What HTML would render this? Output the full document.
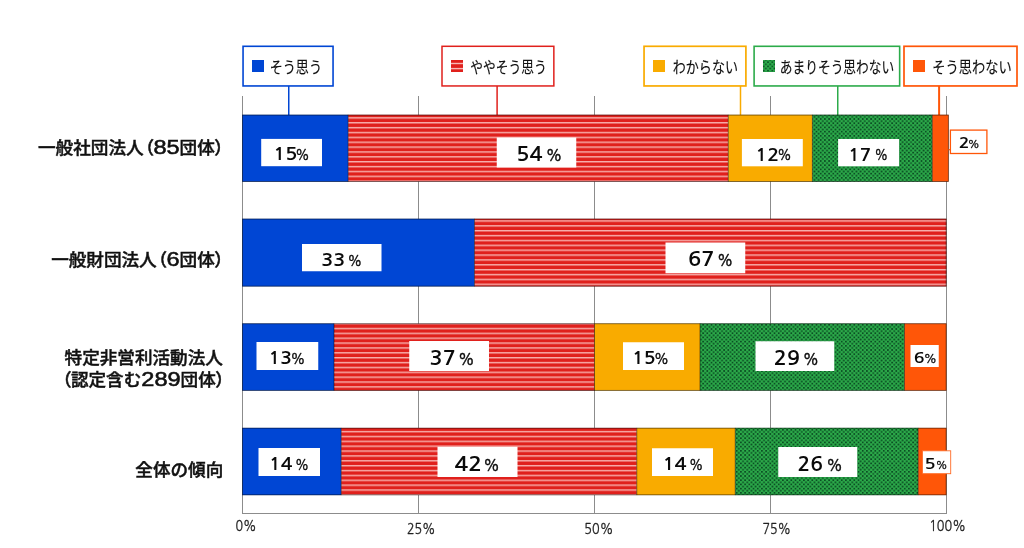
<!DOCTYPE html>
<html lang="ja">
<head>
<meta charset="utf-8">
<title>調査結果グラフ</title>
<style>
html,body{margin:0;padding:0;background:#fff;}
body{width:1024px;height:548px;overflow:hidden;}
svg{display:block;}
text{font-family:"Liberation Sans","Noto Sans CJK JP",sans-serif;fill:#111;}
.jp{font-family:"Noto Sans CJK JP","Liberation Sans",sans-serif;}
.lab{font-weight:500;font-size:17.6px;stroke:#111;stroke-width:0.45px;}
.num{font-family:"Liberation Sans",sans-serif;font-size:19.6px;font-weight:400;stroke-width:0.55px;}
.pp{font-feature-settings:"palt";}
.dig{font-family:NanumGothic,"Liberation Sans",sans-serif;font-weight:700;fill:#0a0a0a;}
.pc{font-family:NanumGothic,"Liberation Sans",sans-serif;font-weight:400;fill:#0a0a0a;stroke:#0a0a0a;stroke-width:0.03em;}
.leg{font-weight:400;fill:#111;stroke:#111;stroke-width:0.15px;}
.ax{font-family:NanumGothic,"Liberation Sans",sans-serif;font-weight:400;fill:#222;stroke:#222;stroke-width:0.02em;}
</style>
</head>
<body>
<svg width="1024" height="548" viewBox="0 0 1024 548">
<defs>
<pattern id="pr0" x="0" y="115.23" width="8" height="4.87" patternUnits="userSpaceOnUse"><rect width="8" height="4.87" fill="#e0201c"/><rect y="1.95" width="8" height="1.45" fill="#f7aeab"/></pattern>
<pattern id="pr1" x="0" y="218.32" width="8" height="4.87" patternUnits="userSpaceOnUse"><rect width="8" height="4.87" fill="#e0201c"/><rect y="1.95" width="8" height="1.45" fill="#f7aeab"/></pattern>
<pattern id="pr2" x="0" y="325.82" width="8" height="4.87" patternUnits="userSpaceOnUse"><rect width="8" height="4.87" fill="#e0201c"/><rect y="1.95" width="8" height="1.45" fill="#f7aeab"/></pattern>
<pattern id="pr3" x="0" y="428.93" width="8" height="4.87" patternUnits="userSpaceOnUse"><rect width="8" height="4.87" fill="#e0201c"/><rect y="1.95" width="8" height="1.45" fill="#f7aeab"/></pattern>
<pattern id="pg" x="0.85" y="0.55" width="4.2" height="4.2" patternUnits="userSpaceOnUse"><rect width="4.2" height="4.2" fill="#2cab4a"/><rect width="1.75" height="1.75" fill="#0b4f24"/><rect x="2.1" y="2.1" width="1.75" height="1.75" fill="#0b4f24"/></pattern>
<pattern id="pgl" x="762.9" y="61.4" width="4.3" height="4.2" patternUnits="userSpaceOnUse"><rect width="4.3" height="4.2" fill="#2cab4a"/><rect width="1.6" height="1.6" fill="#0b4f24"/><rect x="2.15" y="2.1" width="1.6" height="1.6" fill="#0b4f24"/></pattern>
</defs>
<rect x="0" y="0" width="1024" height="548" fill="#fff"/>
<g id="grid">
<line x1="242.5" y1="96" x2="242.5" y2="513.5" stroke="#8c8c8c" stroke-width="1"/>
<line x1="418.5" y1="96" x2="418.5" y2="513.5" stroke="#8c8c8c" stroke-width="1"/>
<line x1="594.5" y1="96" x2="594.5" y2="513.5" stroke="#8c8c8c" stroke-width="1"/>
<line x1="770.5" y1="96" x2="770.5" y2="513.5" stroke="#8c8c8c" stroke-width="1"/>
<line x1="946.5" y1="96" x2="946.5" y2="513.5" stroke="#8c8c8c" stroke-width="1"/>
<line x1="242" y1="513.5" x2="947" y2="513.5" stroke="#8c8c8c" stroke-width="1"/>
</g>
<g id="connectors">
<line x1="288.75" y1="86" x2="288.75" y2="116" stroke="#0046d4" stroke-width="1.5"/>
<line x1="497.1" y1="86" x2="497.1" y2="116" stroke="#e0201c" stroke-width="1.5"/>
<line x1="740.5" y1="86" x2="740.5" y2="116" stroke="#f9ab00" stroke-width="1.5"/>
<line x1="837.75" y1="86" x2="837.75" y2="116" stroke="#2cab4a" stroke-width="1.5"/>
<line x1="939.1" y1="86" x2="939.1" y2="116" stroke="#ff5608" stroke-width="2"/>
</g>
<g id="bars">
<rect x="242.3" y="114.8" width="105.90" height="66.90" fill="#0046d4"/>
<rect x="348.2" y="114.8" width="380.10" height="66.90" fill="url(#pr0)"/>
<rect x="728.3" y="114.8" width="84.10" height="66.90" fill="#f9ab00"/>
<rect x="812.4" y="114.8" width="119.90" height="66.90" fill="url(#pg)"/>
<rect x="932.3" y="114.8" width="16.30" height="66.90" fill="#ff5608"/>
<rect x="242.55" y="115.05" width="705.80" height="66.40" fill="none" stroke="#000" stroke-opacity="0.6" stroke-width="0.8"/>
<line x1="348.2" y1="114.8" x2="348.2" y2="181.7" stroke="#000" stroke-opacity="0.6" stroke-width="0.8"/>
<line x1="728.3" y1="114.8" x2="728.3" y2="181.7" stroke="#000" stroke-opacity="0.6" stroke-width="0.8"/>
<line x1="812.4" y1="114.8" x2="812.4" y2="181.7" stroke="#000" stroke-opacity="0.6" stroke-width="0.8"/>
<line x1="932.3" y1="114.8" x2="932.3" y2="181.7" stroke="#000" stroke-opacity="0.6" stroke-width="0.8"/>
<rect x="242.3" y="218.8" width="232.20" height="67.60" fill="#0046d4"/>
<rect x="474.5" y="218.8" width="471.90" height="67.60" fill="url(#pr1)"/>
<rect x="242.55" y="219.05" width="703.60" height="67.10" fill="none" stroke="#000" stroke-opacity="0.6" stroke-width="0.8"/>
<line x1="474.5" y1="218.8" x2="474.5" y2="286.4" stroke="#000" stroke-opacity="0.6" stroke-width="0.8"/>
<rect x="242.3" y="323.5" width="91.70" height="67.10" fill="#0046d4"/>
<rect x="334" y="323.5" width="260.50" height="67.10" fill="url(#pr2)"/>
<rect x="594.5" y="323.5" width="105.50" height="67.10" fill="#f9ab00"/>
<rect x="700" y="323.5" width="204.50" height="67.10" fill="url(#pg)"/>
<rect x="904.5" y="323.5" width="41.90" height="67.10" fill="#ff5608"/>
<rect x="242.55" y="323.75" width="703.60" height="66.60" fill="none" stroke="#000" stroke-opacity="0.6" stroke-width="0.8"/>
<line x1="334" y1="323.5" x2="334" y2="390.6" stroke="#000" stroke-opacity="0.6" stroke-width="0.8"/>
<line x1="594.5" y1="323.5" x2="594.5" y2="390.6" stroke="#000" stroke-opacity="0.6" stroke-width="0.8"/>
<line x1="700" y1="323.5" x2="700" y2="390.6" stroke="#000" stroke-opacity="0.6" stroke-width="0.8"/>
<line x1="904.5" y1="323.5" x2="904.5" y2="390.6" stroke="#000" stroke-opacity="0.6" stroke-width="0.8"/>
<rect x="242.3" y="427.9" width="98.95" height="67.20" fill="#0046d4"/>
<rect x="341.25" y="427.9" width="295.50" height="67.20" fill="url(#pr3)"/>
<rect x="636.75" y="427.9" width="98.50" height="67.20" fill="#f9ab00"/>
<rect x="735.25" y="427.9" width="182.95" height="67.20" fill="url(#pg)"/>
<rect x="918.2" y="427.9" width="28.20" height="67.20" fill="#ff5608"/>
<rect x="242.55" y="428.15" width="703.60" height="66.70" fill="none" stroke="#000" stroke-opacity="0.6" stroke-width="0.8"/>
<line x1="341.25" y1="427.9" x2="341.25" y2="495.1" stroke="#000" stroke-opacity="0.6" stroke-width="0.8"/>
<line x1="636.75" y1="427.9" x2="636.75" y2="495.1" stroke="#000" stroke-opacity="0.6" stroke-width="0.8"/>
<line x1="735.25" y1="427.9" x2="735.25" y2="495.1" stroke="#000" stroke-opacity="0.6" stroke-width="0.8"/>
<line x1="918.2" y1="427.9" x2="918.2" y2="495.1" stroke="#000" stroke-opacity="0.6" stroke-width="0.8"/>
</g>
<g id="values">
<rect x="261.2" y="138.9" width="60.80" height="27.30" fill="#fff"/>
<text class="dig" transform="translate(273.19,160.43) scale(1.1905,1)" font-size="16.88">15</text>
<text class="pc" transform="translate(295.35,160.19) scale(0.9619,1)" font-size="13.74">%</text>
<rect x="496.75" y="137.5" width="79.50" height="30.00" fill="#fff"/>
<text class="dig" transform="translate(516.18,161.21) scale(1.1651,1)" font-size="18.70">54</text>
<text class="pc" transform="translate(545.82,160.94) scale(1.0010,1)" font-size="15.21">%</text>
<rect x="741.9" y="139" width="60.90" height="27.30" fill="#fff"/>
<text class="dig" transform="translate(755.21,160.61) scale(1.1696,1)" font-size="17.01">12</text>
<text class="pc" transform="translate(777.29,160.28) scale(0.9575,1)" font-size="13.87">%</text>
<rect x="838.1" y="139" width="61.00" height="27.30" fill="#fff"/>
<text class="dig" transform="translate(848.23,160.61) scale(1.1101,1)" font-size="17.12">17</text>
<text class="pc" transform="translate(874.52,160.28) scale(0.9036,1)" font-size="13.87">%</text>
<rect x="950.4" y="130.1" width="36.50" height="23.40" fill="#fff" stroke="#ff5608" stroke-width="1.3"/>
<text class="dig" transform="translate(958.72,148.14) scale(1.3726,1)" font-size="12.99">2</text>
<text class="pc" transform="translate(967.70,147.87) scale(0.9888,1)" font-size="11.04">%</text>
<rect x="302" y="244" width="79.50" height="27.25" fill="#fff"/>
<text class="dig" transform="translate(321.31,265.83) scale(1.1840,1)" font-size="16.77">33</text>
<text class="pc" transform="translate(347.51,265.59) scale(0.9828,1)" font-size="13.74">%</text>
<rect x="665.5" y="242.5" width="79.75" height="30.75" fill="#fff"/>
<text class="dig" transform="translate(688.08,266.41) scale(1.1604,1)" font-size="18.84">67</text>
<text class="pc" transform="translate(717.11,266.14) scale(0.9665,1)" font-size="15.46">%</text>
<rect x="256.5" y="342" width="61.75" height="28.00" fill="#fff"/>
<text class="dig" transform="translate(268.48,363.83) scale(1.1390,1)" font-size="17.03">13</text>
<text class="pc" transform="translate(290.50,363.60) scale(1.0134,1)" font-size="13.50">%</text>
<rect x="409.25" y="341" width="79.75" height="30.00" fill="#fff"/>
<text class="dig" transform="translate(429.60,365.01) scale(1.1171,1)" font-size="19.35">37</text>
<text class="pc" transform="translate(458.02,364.74) scale(0.9967,1)" font-size="15.34">%</text>
<rect x="623" y="342.25" width="61.00" height="27.75" fill="#fff"/>
<text class="dig" transform="translate(631.94,363.83) scale(1.1494,1)" font-size="17.14">15</text>
<text class="pc" transform="translate(653.98,363.60) scale(1.0219,1)" font-size="13.50">%</text>
<rect x="755.5" y="341.25" width="78.75" height="29.75" fill="#fff"/>
<text class="dig" transform="translate(773.81,365.01) scale(1.1227,1)" font-size="19.23">29</text>
<text class="pc" transform="translate(802.86,364.74) scale(0.9743,1)" font-size="15.34">%</text>
<rect x="910.5" y="345" width="28.25" height="22.00" fill="#fff"/>
<text class="dig" transform="translate(913.84,362.85) scale(1.2302,1)" font-size="14.52">6</text>
<text class="pc" transform="translate(923.67,362.65) scale(1.0354,1)" font-size="11.66">%</text>
<rect x="258.5" y="448" width="61.50" height="28.00" fill="#fff"/>
<text class="dig" transform="translate(268.97,470.11) scale(1.1360,1)" font-size="17.11">14</text>
<text class="pc" transform="translate(295.08,469.80) scale(0.9581,1)" font-size="13.50">%</text>
<rect x="437.5" y="446.75" width="80.00" height="30.25" fill="#fff"/>
<text class="dig" transform="translate(454.43,471.30) scale(1.1878,1)" font-size="19.22">42</text>
<text class="pc" transform="translate(483.32,470.94) scale(1.0010,1)" font-size="15.21">%</text>
<rect x="652" y="448.25" width="61.00" height="27.75" fill="#fff"/>
<text class="dig" transform="translate(662.38,470.11) scale(1.1775,1)" font-size="17.11">14</text>
<text class="pc" transform="translate(689.05,469.80) scale(0.9794,1)" font-size="13.50">%</text>
<rect x="778.25" y="447" width="79.00" height="30.00" fill="#fff"/>
<text class="dig" transform="translate(797.59,471.21) scale(1.1018,1)" font-size="19.10">26</text>
<text class="pc" transform="translate(826.32,470.94) scale(1.0010,1)" font-size="15.21">%</text>
<rect x="922.4" y="450.8" width="28.30" height="22.90" fill="#fff" stroke="#ff6a25" stroke-width="0.9"/>
<text class="dig" transform="translate(924.45,468.96) scale(1.3261,1)" font-size="13.90">5</text>
<text class="pc" transform="translate(935.71,468.76) scale(0.9469,1)" font-size="11.41">%</text>
<line x1="948.6" y1="149.7" x2="950.4" y2="149.7" stroke="#ff5608" stroke-width="1.2"/>
</g>
<g id="legend">
<rect x="243.05" y="46.3" width="90.00" height="39.65" fill="#fff" stroke="#0046d4" stroke-width="1.6"/>
<rect x="252" y="60" width="12" height="12" fill="#0046d4"/>
<text class="jp leg" transform="translate(269.69,72.73) scale(0.8110,1)" font-size="16.14">そう思う</text>
<rect x="442.0" y="46.3" width="111.85" height="39.65" fill="#fff" stroke="#e0201c" stroke-width="1.5"/>
<rect x="451" y="60" width="12" height="12" fill="#e0201c"/>
<rect x="451" y="62.8" width="12" height="1.4" fill="#f8b9b6"/><rect x="451" y="67.9" width="12" height="1.4" fill="#f8b9b6"/>
<text class="jp leg" transform="translate(470.23,72.74) scale(0.8008,1)" font-size="15.95">ややそう思う</text>
<rect x="644.05" y="46.3" width="101.85" height="39.65" fill="#fff" stroke="#f9ab00" stroke-width="1.7"/>
<rect x="653" y="60" width="12" height="12" fill="#f9ab00"/>
<text class="jp leg" transform="translate(672.78,72.89) scale(0.8087,1)" font-size="16.14">わからない</text>
<rect x="754.1" y="46.3" width="145.55" height="39.65" fill="#fff" stroke="#2cab4a" stroke-width="1.6"/>
<rect x="763" y="60" width="12" height="12" fill="url(#pgl)"/>
<text class="jp leg" transform="translate(779.85,72.74) scale(0.7969,1)" font-size="15.95">あまりそう思わない</text>
<rect x="904.0" y="46.3" width="113.00" height="39.65" fill="#fff" stroke="#ff5608" stroke-width="1.7"/>
<rect x="913" y="60" width="12" height="12" fill="#ff5608"/>
<text class="jp leg" transform="translate(932.27,72.74) scale(0.8314,1)" font-size="15.95">そう思わない</text>
</g>
<g id="rowlabels">
<text class="jp lab" x="223.6" y="154.1" text-anchor="end">一般社団法人<tspan class="pp" dx="1">（</tspan><tspan class="num" textLength="26.2" lengthAdjust="spacingAndGlyphs">85</tspan>団体<tspan class="pp">）</tspan></text>
<text class="jp lab" x="223.6" y="266.3" text-anchor="end">一般財団法人<tspan class="pp" dx="1">（</tspan><tspan class="num" textLength="13.1" lengthAdjust="spacingAndGlyphs">6</tspan>団体<tspan class="pp">）</tspan></text>
<text class="jp lab" x="222.9" y="364.3" text-anchor="end">特定非営利活動法人</text>
<text class="jp lab" x="223.6" y="385.7" text-anchor="end"><tspan class="pp" dx="1">（</tspan>認定含む<tspan class="num" textLength="39.3" lengthAdjust="spacingAndGlyphs">289</tspan>団体<tspan class="pp">）</tspan></text>
<text class="jp lab" x="223.3" y="476.2" text-anchor="end">全体の傾向</text>
</g>
<g id="axis">
<text class="ax" transform="translate(235.38,531.44) scale(0.8589,1)" font-size="14.53">0%</text>
<text class="ax" transform="translate(406.88,534.24) scale(0.8646,1)" font-size="14.41">25%</text>
<text class="ax" transform="translate(584.36,534.24) scale(0.8778,1)" font-size="14.41">50%</text>
<text class="ax" transform="translate(762.50,534.24) scale(0.8638,1)" font-size="14.41">75%</text>
<text class="ax" transform="translate(929.19,531.34) scale(0.8782,1)" font-size="14.41">100%</text>
</g>
</svg>
</body>
</html>
